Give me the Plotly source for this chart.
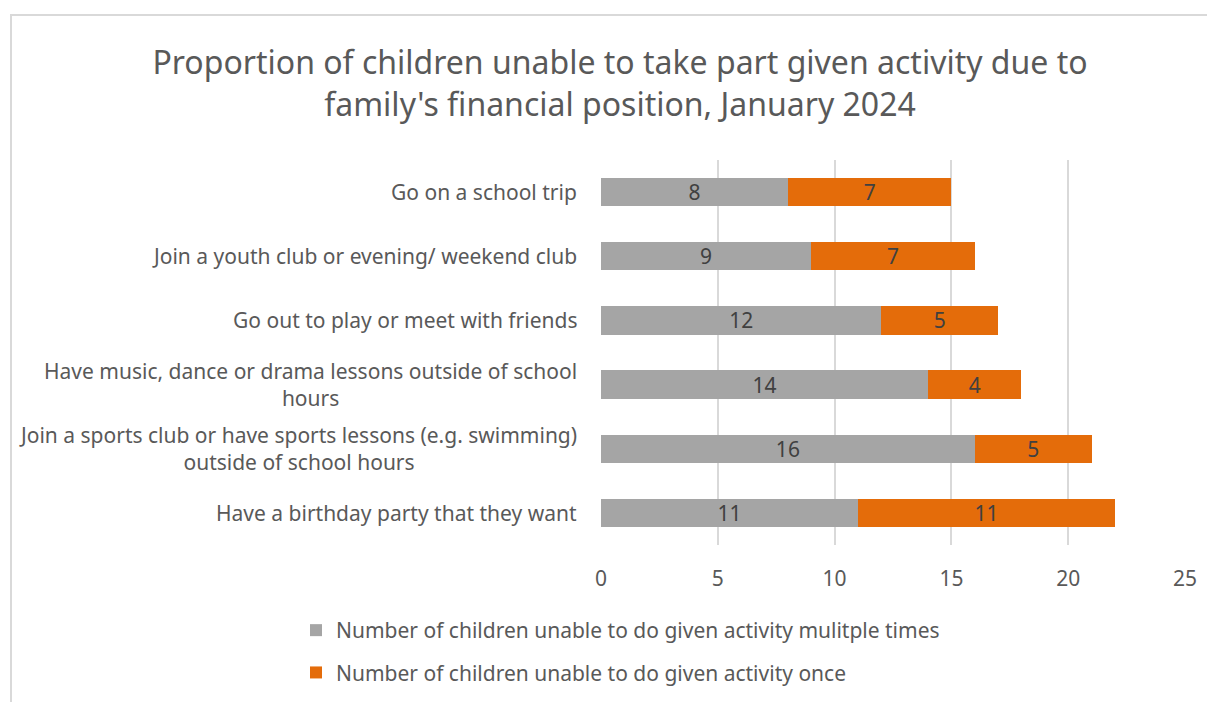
import plotly.graph_objects as go

# data
activities = [
    "Go on a school trip",
    "Join a youth club or evening/ weekend club",
    "Go out to play or meet with friends",
    "Have music, dance or drama lessons outside of school<br>hours",
    "Join a sports club or have sports lessons (e.g. swimming)<br>outside of school hours",
    "Have a birthday party that they want",
]
multiple_times = [8, 9, 12, 14, 16, 11]
once = [7, 7, 5, 4, 5, 11]

series_names = [
    "Number of children unable to do given activity mulitple times",
    "Number of children unable to do given activity once",
]
x_ticks = [0, 5, 10, 15, 20, 25]

FONT = "Noto Sans"
TXT = "#595959"
FS = 21

# the page adds an 8px body margin, so the figure is a bit smaller
W, H = 1207, 694
L, R, T, B = 593, 30, 152, 157
PW = W - L - R
PH = H - T - B

fig = go.Figure()
fig.add_trace(go.Bar(
    y=activities, x=multiple_times, orientation="h", name=series_names[0],
    marker=dict(color="#a5a5a5", line=dict(width=0)),
    text=multiple_times, textposition="inside", insidetextanchor="middle",
    textangle=0, constraintext="none",
    textfont=dict(color="#404040", size=FS, family=FONT),
    legendgroup="a",
))
fig.add_trace(go.Bar(
    y=activities, x=once, orientation="h", name=series_names[1],
    marker=dict(color="#e46c0a", line=dict(width=0)),
    text=once, textposition="inside", insidetextanchor="middle",
    textangle=0, constraintext="none",
    textfont=dict(color="#404040", size=FS, family=FONT),
    legendgroup="b",
))

# category labels: centred lines, right edge just left of the plot
for act in activities:
    fig.add_annotation(
        x=0, xref="paper", y=act, yref="y", xanchor="right", xshift=-22,
        text=act, align="center", showarrow=False,
        font=dict(size=FS, color=TXT, family=FONT),
    )

fig.update_layout(
    barmode="stack",
    bargap=0.56,
    width=W, height=H,
    margin=dict(l=L, r=R, t=T, b=B, autoexpand=False),
    paper_bgcolor="white", plot_bgcolor="white",
    font=dict(family=FONT, color=TXT, size=FS),
    title=dict(
        text="Proportion of children unable to take part given activity due to<br>family's financial position, January 2024",
        x=612 / W, xanchor="center", y=1 - 66 / H, yanchor="top",
        font=dict(size=32, color=TXT, family=FONT),
    ),
    xaxis=dict(
        range=[0, 25], tickvals=x_ticks, showgrid=True, gridcolor="#d9d9d9",
        gridwidth=1.5, zeroline=False, showline=False, automargin=False,
        tickfont=dict(size=FS, color=TXT), ticks="", ticklabelstandoff=19,
    ),
    yaxis=dict(
        autorange="reversed", showgrid=False, showline=False, ticks="",
        automargin=False, showticklabels=False,
    ),
    legend=dict(
        orientation="v", x=(288 - L) / PW, xanchor="left", y=-65 / PH, yanchor="top",
        font=dict(size=FS, color=TXT), tracegroupgap=12,
        traceorder="grouped", itemwidth=30,
    ),
    showlegend=True,
)

# chart frame
fig.add_shape(
    type="rect", xref="paper", yref="paper",
    x0=(3 - L) / PW, x1=(W + 20 - L) / PW,
    y0=-(B + 20) / PH, y1=1 + (T - 7) / PH,
    line=dict(color="#d9d9d9", width=2), layer="below",
)

fig.write_html("out.html")
